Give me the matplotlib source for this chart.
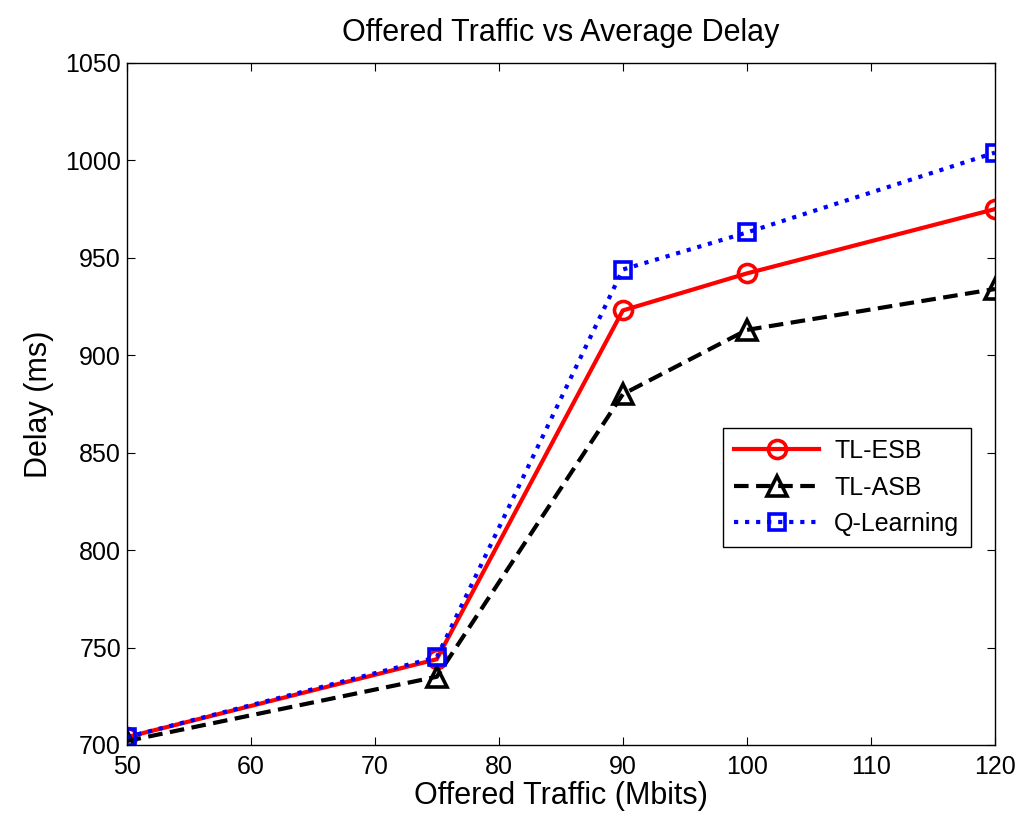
import matplotlib
matplotlib.use("Agg")
import matplotlib.pyplot as plt

plt.rcParams['font.family'] = ['Liberation Sans', 'DejaVu Sans']

x = [50, 75, 90, 100, 120]
tl_esb = [704, 744, 923, 942, 975]
tl_asb = [702, 735, 880, 913, 934]
q_learning = [704, 745, 944, 963, 1004]
xticks = [50, 60, 70, 80, 90, 100, 110, 120]
yticks = [700, 750, 800, 850, 900, 950, 1000, 1050]

fig = plt.figure(figsize=(10.21, 8.22), dpi=100)
ax = fig.add_axes([0.124, 0.0937, 0.8505, 0.8297])

ax.plot(x, tl_esb, '-', color='red', lw=3, marker='o', ms=13, mfc='none', mew=2.6, label='TL-ESB')
ax.plot(x, tl_asb, '--', color='black', lw=3, marker='^', ms=14, mfc='none', mew=2.6, label='TL-ASB', dashes=(3.5, 1.8))
ax.plot(x, q_learning, ':', color='blue', lw=3, marker='s', ms=12, mfc='none', mew=2.6, label='Q-Learning')

ax.set_xlim(50, 120)
ax.set_ylim(700, 1050)
ax.set_xticks(xticks)
ax.set_yticks(yticks)
ax.tick_params(direction='in', top=True, right=True, labelsize=18, length=6)
ax.tick_params(axis='x', pad=7)
ax.tick_params(axis='y', pad=4)
for s in ax.spines.values():
    s.set_linewidth(1.0)

ax.set_title('Offered Traffic vs Average Delay', fontsize=22, pad=16)
ax.set_xlabel('Offered Traffic (Mbits)', fontsize=22, labelpad=2)
ax.set_ylabel('Delay (ms)', fontsize=22, labelpad=8)

leg = ax.legend(loc='upper right', bbox_to_anchor=(0.972, 0.465), borderaxespad=0,
                fontsize=18, fancybox=False, edgecolor='black', framealpha=1,
                handlelength=3.4, borderpad=0.45, labelspacing=0.5, handletextpad=0.6)
leg.get_frame().set_linewidth(1.0)

fig.savefig('out.png', dpi=100)
